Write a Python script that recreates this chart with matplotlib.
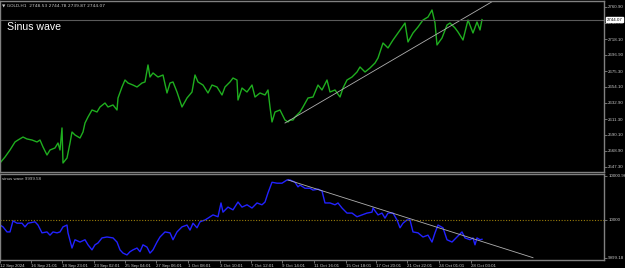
import matplotlib
matplotlib.use('Agg')
import matplotlib.pyplot as plt

# bar index / close price (GOLD, H1)
price_bar = [0, 5, 10, 15, 18, 23, 27, 32, 37, 40, 43, 47, 50, 55, 58, 60, 62, 63, 67, 70,
             72, 75, 80, 83, 85, 88, 92, 97, 100, 105, 108, 113, 117, 118, 122, 125, 128, 133, 137, 142,
             145, 148, 150, 153, 158, 163, 167, 170, 173, 177, 182, 187, 192, 195, 198, 203, 208, 212, 217, 222,
             225, 230, 233, 237, 238, 242, 247, 252, 255, 260, 265, 268, 270, 272, 275, 280, 285, 288, 290, 293,
             295, 300, 303, 308, 313, 318, 322, 327, 330, 335, 340, 343, 347, 352, 357, 360, 365, 370, 375, 378,
             383, 388, 393, 398, 405, 408, 413, 418, 423, 428, 432, 435, 437, 442, 447, 450, 455, 458, 463, 468,
             473, 477, 480, 482]
price = [2552.6, 2560.6, 2570.0, 2580.7, 2583.3, 2587.3, 2584.7, 2583.3, 2580.7, 2583.3,
         2574.0, 2563.3, 2570.0, 2572.7, 2579.3, 2570.0, 2599.4, 2552.6, 2559.3, 2579.3,
         2594.0, 2590.0, 2586.0, 2594.0, 2606.0, 2614.0, 2623.4, 2620.7, 2627.4, 2632.7,
         2627.4, 2630.1, 2623.4, 2639.4, 2654.1, 2663.4, 2659.4, 2656.7, 2654.1, 2659.4,
         2660.8, 2683.5, 2667.4, 2672.8, 2667.4, 2670.1, 2646.1, 2659.4, 2660.8, 2647.4,
         2627.4, 2639.4, 2647.4, 2670.1, 2660.8, 2656.7, 2646.1, 2656.7, 2654.1, 2643.4,
         2654.1, 2660.8, 2666.1, 2663.4, 2636.7, 2652.7, 2647.4, 2656.7, 2640.7, 2646.1,
         2643.4, 2650.1, 2627.4, 2607.4, 2620.7, 2623.4, 2610.0, 2607.4, 2610.0, 2610.0,
         2614.0, 2620.7, 2627.4, 2639.4, 2640.7, 2656.7, 2650.1, 2663.4, 2647.4, 2650.1,
         2640.7, 2652.7, 2663.4, 2667.4, 2674.1, 2680.8, 2674.1, 2679.5, 2686.1, 2692.8,
         2712.8, 2706.2, 2716.8, 2726.2, 2739.5, 2714.2, 2726.2, 2734.2, 2743.5, 2747.5,
         2756.9, 2739.5, 2710.2, 2719.5, 2736.8, 2739.5, 2732.9, 2727.5, 2716.8, 2743.5,
         2726.2, 2740.9, 2730.2, 2744.07]

wave_bar = [0, 3, 7, 10, 13, 17, 22, 25, 28, 35, 38, 42, 47, 50, 53, 57, 60, 63, 67, 68,
            72, 75, 80, 85, 88, 92, 95, 98, 102, 107, 113, 117, 120, 123, 127, 130, 133, 137, 140, 143,
            147, 150, 153, 157, 160, 165, 170, 173, 177, 182, 187, 190, 193, 197, 200, 205, 208, 213, 218, 221,
            223, 228, 233, 238, 242, 247, 252, 257, 262, 265, 268, 272, 277, 282, 287, 290, 295, 298, 300, 305,
            310, 313, 318, 322, 325, 330, 335, 338, 342, 347, 352, 357, 362, 367, 372, 373, 378, 382, 385, 388,
            393, 397, 400, 403, 407, 410, 413, 418, 423, 428, 432, 435, 438, 443, 447, 452, 457, 462, 465, 470,
            473, 475, 477, 480, 482]
wave = [9999.89, 9999.85, 9999.74, 9999.74, 9999.98, 9999.93, 9999.93, 9999.85, 9999.93, 9999.96,
        9999.89, 9999.72, 9999.74, 9999.67, 9999.74, 9999.72, 9999.74, 9999.85, 9999.89, 9999.72,
        9999.39, 9999.57, 9999.52, 9999.57, 9999.46, 9999.35, 9999.46, 9999.50, 9999.61, 9999.63,
        9999.61, 9999.52, 9999.35, 9999.28, 9999.24, 9999.31, 9999.35, 9999.39, 9999.31, 9999.46,
        9999.41, 9999.28, 9999.35, 9999.52, 9999.63, 9999.74, 9999.72, 9999.57, 9999.74, 9999.85,
        9999.89, 9999.78, 9999.93, 9999.83, 9999.96, 10000.00, 10000.04, 10000.11, 10000.07, 10000.37,
        10000.17, 10000.28, 10000.22, 10000.39, 10000.28, 10000.33, 10000.26, 10000.37, 10000.33, 10000.39,
        10000.59, 10000.82, 10000.80, 10000.80, 10000.87, 10000.87, 10000.82, 10000.72, 10000.76, 10000.69,
        10000.69, 10000.65, 10000.67, 10000.63, 10000.37, 10000.37, 10000.33, 10000.37, 10000.26, 10000.15,
        10000.15, 10000.07, 10000.11, 10000.15, 10000.17, 10000.26, 10000.11, 10000.15, 10000.04, 10000.15,
        10000.15, 10000.00, 9999.83, 9999.93, 10000.00, 10000.00, 9999.74, 9999.72, 9999.63, 9999.67,
        9999.52, 9999.72, 9999.89, 9999.83, 9999.57, 9999.52, 9999.63, 9999.74, 9999.61, 9999.57,
        9999.61, 9999.46, 9999.61, 9999.57, 9999.58]

# trendlines (bar, value)
price_trend_bar = [285, 510]
price_trend = [2606.0, 2782.0]
wave_trend_bar = [288, 533]
wave_trend = [10000.87, 9999.18]

bid = 2744.07
price_ticks = [2760.90, 2739.70, 2718.10, 2696.90, 2675.30, 2654.10, 2632.90,
               2611.30, 2590.10, 2568.90, 2547.30]
wave_ticks = [10000.96, 10000, 9999.18]
wave_tick_labels = ['10000.96', '10000', '9999.18']

time_pos = [0, 31, 62, 94, 125, 156, 188, 220, 251, 282, 314, 346, 376, 407, 439, 471]
time_labels = ['12 Sep 2024', '16 Sep 21:01', '18 Sep 23:01', '23 Sep 02:01', '25 Sep 04:01',
               '27 Sep 06:01', '1 Oct 08:01', '3 Oct 10:01', '7 Oct 12:01', '9 Oct 14:01',
               '11 Oct 16:01', '15 Oct 18:01', '17 Oct 20:01', '21 Oct 22:01', '24 Oct 01:01',
               '28 Oct 03:01']

plt.rcParams['font.family'] = ['Liberation Sans', 'DejaVu Sans']
grey = '#808080'
lab = '#c8c8c8'
fs = 3.2

fig = plt.figure(figsize=(6.25, 2.68), dpi=100, facecolor='black')
ax1 = fig.add_axes([0.0, 0.3582, 0.9664, 0.6381], facecolor='black')
ax2 = fig.add_axes([0.0, 0.0299, 0.9664, 0.3209], facecolor='black')

for ax in (ax1, ax2):
    ax.set_xlim(0, 604)
    for s in ax.spines.values():
        s.set_color(grey)
        s.set_linewidth(1.0)
    ax.yaxis.tick_right()
    ax.tick_params(axis='y', colors=grey, labelcolor=lab, labelsize=fs, length=2, width=0.6, pad=1)

# main price panel
ax1.plot(price_bar, price, color='#1fae1f', lw=1.0)
ax1.plot(price_trend_bar, price_trend, color='#b0b0b0', lw=0.6)
ax1.axhline(bid, color='#5a5a5a', lw=0.8)
ax1.set_ylim(2540.6, 2768.9)
ax1.set_yticks(price_ticks)
ax1.set_yticklabels(['%.2f' % v for v in price_ticks])
ax1.set_xticks([])
ax1.annotate('%.2f' % bid, xy=(1.004, bid), xycoords=('axes fraction', 'data'),
             fontsize=fs, color='black', va='center', ha='left',
             bbox=dict(boxstyle='square,pad=0.15', fc='white', ec='white'))
ax1.text(0.004, 0.985, '\u25bc GOLD,H1  2748.53 2744.78 2739.87 2744.07',
         transform=ax1.transAxes, fontsize=fs, color=lab, va='top', ha='left',
         family=['DejaVu Sans'])
ax1.text(0.012, 0.845, 'Sinus wave', transform=ax1.transAxes, fontsize=7.6,
         color='white', va='center', ha='left')

# indicator panel
ax2.plot(wave_bar, wave, color='#2222ff', lw=1.0)
ax2.plot(wave_trend_bar, wave_trend, color='#b0b0b0', lw=0.6)
ax2.axhline(10000, color='#9a7d0a', lw=0.8, ls=(0, (1, 1.5)))
ax2.set_ylim(9999.13, 10001.0)
ax2.set_yticks(wave_ticks)
ax2.set_yticklabels(wave_tick_labels)
ax2.set_xticks(time_pos)
ax2.set_xticklabels(time_labels, ha='left')
ax2.tick_params(axis='x', colors=grey, labelcolor=lab, labelsize=fs, length=2, width=0.6, pad=1)
ax2.text(0.004, 0.96, 'sinus wave 9999.58', transform=ax2.transAxes, fontsize=fs,
         color=lab, va='top', ha='left')

fig.savefig('out.png', dpi=100, facecolor='black')
